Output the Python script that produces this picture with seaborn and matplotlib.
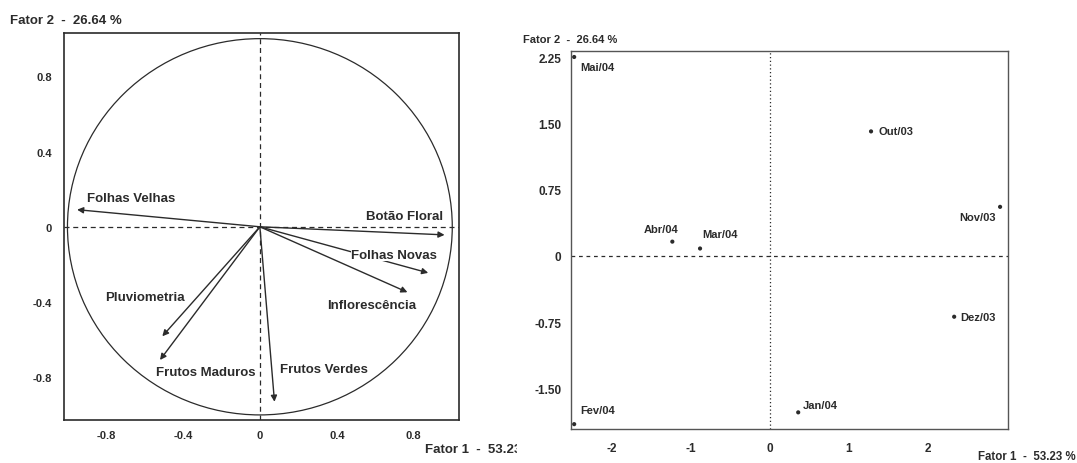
import numpy as np
import pandas as pd
import matplotlib
matplotlib.use('Agg')
import matplotlib.pyplot as plt
import seaborn as sns
from matplotlib.patches import Circle
from matplotlib.transforms import Bbox, TransformedBbox

sns.set_style('white')
plt.rcParams['font.family'] = ['Liberation Sans', 'DejaVu Sans']
plt.rcParams['axes.unicode_minus'] = False

# 变量载荷（相关圆）
variaveis = ['Folhas Velhas', 'Botão Floral', 'Folhas Novas', 'Inflorescência',
             'Pluviometria', 'Frutos Maduros', 'Frutos Verdes']
fator1_var = [-0.95, 0.96, 0.875, 0.767, -0.507, -0.519, 0.076]
fator2_var = [0.091, -0.043, -0.245, -0.348, -0.582, -0.708, -0.93]

# 月份得分
meses = ['Out/03', 'Nov/03', 'Dez/03', 'Jan/04', 'Fev/04', 'Mar/04', 'Abr/04', 'Mai/04']
fator1_mes = [1.28, 2.91, 2.33, 0.36, -2.47, -0.88, -1.23, -2.47]
fator2_mes = [1.415, 0.558, -0.69, -1.776, -1.91, 0.085, 0.163, 2.26]

ticks_left = [-0.8, -0.4, 0, 0.4, 0.8]
ticklabels_left = ['-0.8', '-0.4', '0', '0.4', '0.8']
xticks_right = [-2, -1, 0, 1, 2]
xticklabels_right = ['-2', '-1', '0', '1', '2']
yticks_right = [-1.5, -0.75, 0, 0.75, 1.5, 2.25]
yticklabels_right = ['-1.50', '-0.75', '0', '0.75', '1.50', '2.25']

eixo_x = 'Fator 1  -  53.23 %'
eixo_y = 'Fator 2  -  26.64 %'

# 标签位置（布局用）
lab_left = {
    'Folhas Velhas': (-0.90, 0.155, 'left'),
    'Botão Floral': (0.95, 0.059, 'right'),
    'Folhas Novas': (0.475, -0.149, 'left'),
    'Inflorescência': (0.352, -0.416, 'left'),
    'Pluviometria': (-0.805, -0.373, 'left'),
    'Frutos Maduros': (-0.539, -0.773, 'left'),
    'Frutos Verdes': (0.107, -0.757, 'left'),
}
lab_right = {
    'Out/03': (7, 0, 'left'),
    'Nov/03': (-4, -10, 'right'),
    'Dez/03': (6, 0, 'left'),
    'Jan/04': (5, 7, 'left'),
    'Fev/04': (6, 14, 'left'),
    'Mar/04': (2, 14, 'left'),
    'Abr/04': (-11, 13, 'center'),
    'Mai/04': (6, -10, 'left'),
}

ink = '#2b2b2b'
W, H = 1077, 464
fig = plt.figure(figsize=(W / 100, H / 100), dpi=100)
fig.patch.set_facecolor('white')

# ---- 左图：相关圆 ----
ax1 = fig.add_axes([64 / W, 1 - 421 / H, 395 / W, 387 / H])
ax1.set_xlim(-1.018, 1.035)
ax1.set_ylim(-1.027, 1.030)
ax1.add_patch(Circle((0, 0), 1.0, fill=False, ec=ink, lw=0.9))
ax1.axhline(0, color=ink, lw=0.9, ls=(0, (4, 3)))
ax1.axvline(0, color=ink, lw=0.9, ls=(0, (4, 3)))
for nome, x, y in zip(variaveis, fator1_var, fator2_var):
    ax1.annotate('', xy=(x, y), xytext=(0, 0),
                 arrowprops=dict(arrowstyle='-|>', color=ink, lw=1.0,
                                 mutation_scale=9, shrinkA=0, shrinkB=0))
for nome in variaveis:
    lx, ly, ha = lab_left[nome]
    ax1.text(lx, ly, nome, ha=ha, va='center', fontsize=9.5, fontweight='bold',
             color=ink, bbox=dict(fc='white', ec='none', pad=0.5))
ax1.set_xticks(ticks_left)
ax1.set_xticklabels(ticklabels_left)
ax1.set_yticks(ticks_left)
ax1.set_yticklabels(ticklabels_left)
ax1.tick_params(direction='inout', length=7, width=1, colors=ink, labelsize=8)
ax1.tick_params(axis='y', pad=5)
for lab in ax1.get_xticklabels() + ax1.get_yticklabels():
    lab.set_fontweight('bold')
for sp in ax1.spines.values():
    sp.set_visible(True)
    sp.set_color(ink)
    sp.set_linewidth(1.2)

fig.text(10 / W, 1 - 21 / H, eixo_y, ha='left', va='center', fontsize=9.5,
         fontweight='bold', color=ink)
t = fig.text(425 / W, 1 - 450 / H, eixo_x, ha='left', va='center', fontsize=9.5,
             fontweight='bold', color=ink)
t.set_clip_on(True)
t.set_clip_box(TransformedBbox(Bbox([[0, 0], [517 / W, 1]]), fig.transFigure))

# ---- 右图：月份得分 ----
ax2 = fig.add_axes([571 / W, 1 - 430 / H, 437 / W, 378 / H])
df = pd.DataFrame({'f1': fator1_mes, 'f2': fator2_mes, 'mes': meses})
sns.scatterplot(data=df, x='f1', y='f2', ax=ax2, color=ink, s=9,
                edgecolor='none', legend=False)
ax2.set_xlim(-2.51, 3.01)
ax2.set_ylim(-1.965, 2.328)
ax2.axhline(0, color=ink, lw=0.9, ls=(0, (3, 3)))
ax2.axvline(0, color=ink, lw=0.9, ls=(0, (1, 2)))
for _, row in df.iterrows():
    dx, dy, ha = lab_right[row['mes']]
    ax2.annotate(row['mes'], (row['f1'], row['f2']), xytext=(dx, dy),
                 textcoords='offset pixels', ha=ha, va='center', fontsize=8,
                 fontweight='bold', color=ink)
ax2.set_xticks(xticks_right)
ax2.set_xticklabels(xticklabels_right)
ax2.set_yticks(yticks_right)
ax2.set_yticklabels(yticklabels_right)
ax2.set_xlabel('')
ax2.set_ylabel('')
ax2.tick_params(direction='inout', length=7, width=1, colors=ink, labelsize=8.5)
ax2.tick_params(axis='x', pad=6)
for lab in ax2.get_xticklabels() + ax2.get_yticklabels():
    lab.set_fontweight('bold')
for sp in ax2.spines.values():
    sp.set_visible(True)
    sp.set_color('#555555')
    sp.set_linewidth(1.0)
    sp.set_linestyle((0, (1, 1)))

fig.text(523 / W, 1 - 40 / H, eixo_y, ha='left', va='center', fontsize=8,
         fontweight='bold', color=ink)
fig.text(978 / W, 1 - 457 / H, eixo_x, ha='left', va='center', fontsize=8.3,
         fontweight='bold', color=ink)

fig.savefig('out.png', dpi=100, facecolor='white')
